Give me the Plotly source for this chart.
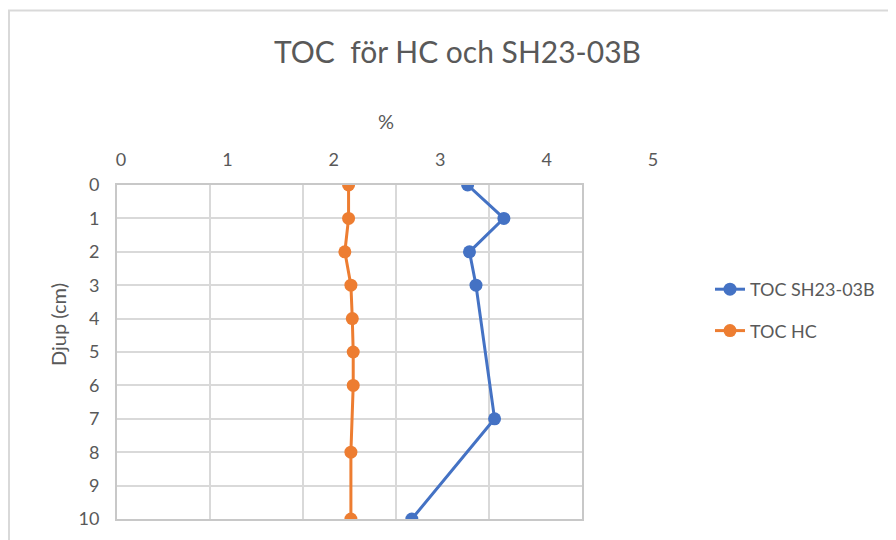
import plotly.graph_objects as go

depth_sh = [0, 1, 2, 3, 7, 10]
toc_sh = [3.77, 4.16, 3.79, 3.86, 4.06, 3.17]
depth_hc = [0, 1, 2, 3, 4, 5, 6, 8, 10]
toc_hc = [2.49, 2.49, 2.45, 2.515, 2.53, 2.54, 2.54, 2.515, 2.515]
x_tick_vals = [0, 1, 2, 3, 4, 5]
y_tick_vals = list(range(0, 11))

FONT = "Lato"
GRAY = "#595959"

# screenshot-pixel helpers (page body adds 8px offset)
PL, PR, PT, PB = 117, 660, 185, 519
W = PR - PL
H = PB - PT


def px(sx):
    return (sx - PL) / W


def py(sy):
    return (PB - sy) / H


fig = go.Figure()
fig.add_trace(go.Scatter(
    x=toc_sh, y=depth_sh, mode="lines+markers", name="TOC SH23-03B",
    legendgroup="a",
    line=dict(color="#4472C4", width=3), marker=dict(color="#4472C4", size=13)))
fig.add_trace(go.Scatter(
    x=toc_hc, y=depth_hc, mode="lines+markers", name="TOC HC",
    legendgroup="b",
    line=dict(color="#ED7D31", width=3), marker=dict(color="#ED7D31", size=13)))
# empty trace so the label-only top axis (x2, on a thin strip y2) is drawn
fig.add_trace(go.Scatter(x=[], y=[], xaxis="x2", yaxis="y2",
                         showlegend=False, hoverinfo="skip"))

fig.update_layout(
    width=896, height=540,
    margin=dict(l=PL - 8, r=896 - (PR - 8), t=PT - 8, b=540 - (PB - 8)),
    paper_bgcolor="white", plot_bgcolor="rgba(0,0,0,0)",
    font=dict(family=FONT, color=GRAY, size=18),
    title=dict(text="TOC  för HC och SH23-03B", x=449.5 / 896, xanchor="center",
               y=1 - 44 / 540, yanchor="middle",
               font=dict(size=30, color=GRAY, family=FONT)),
    xaxis=dict(domain=[0, px(582)], range=[0, 5], tickvals=x_tick_vals,
               showticklabels=False, side="top",
               showgrid=True, gridcolor="#d9d9d9", gridwidth=2,
               showline=True, linecolor="#c8c8c8", linewidth=2, mirror=True,
               ticks="", zeroline=False),
    xaxis2=dict(domain=[px(121), px(653)], range=[0, 5], tickvals=x_tick_vals,
                anchor="y2", side="top", showgrid=False, showline=False,
                ticks="", zeroline=False, ticklabelstandoff=14,
                tickfont=dict(size=18, color=GRAY)),
    yaxis=dict(range=[10, 0], tickvals=y_tick_vals,
               showgrid=True, gridcolor="#d9d9d9", gridwidth=2,
               showline=True, linecolor="#c8c8c8", linewidth=2, mirror=True,
               ticks="", zeroline=False, ticklabelstandoff=12,
               tickfont=dict(size=18, color=GRAY)),
    yaxis2=dict(domain=[0.995, 1], range=[0, 1], anchor="x2",
                showgrid=False, showline=False, showticklabels=False,
                ticks="", zeroline=False),
    legend=dict(x=px(710), y=py(271), xanchor="left", yanchor="top",
                traceorder="grouped", tracegroupgap=15,
                font=dict(size=18, color=GRAY), bgcolor="rgba(0,0,0,0)"),
    annotations=[
        dict(text="%", xref="paper", yref="paper", x=px(386), y=py(121),
             xanchor="center", yanchor="middle", showarrow=False,
             font=dict(size=20, color=GRAY)),
        dict(text="Djup (cm)", xref="paper", yref="paper", x=px(58), y=py(325),
             xanchor="center", yanchor="middle", showarrow=False, textangle=-90,
             font=dict(size=20, color=GRAY)),
    ],
    shapes=[dict(type="rect", xref="paper", yref="paper",
                 x0=px(9), x1=2.0, y0=-0.5, y1=py(10.5),
                 line=dict(color="#d9d9d9", width=2), layer="below")],
)

fig.write_html("out.html")
